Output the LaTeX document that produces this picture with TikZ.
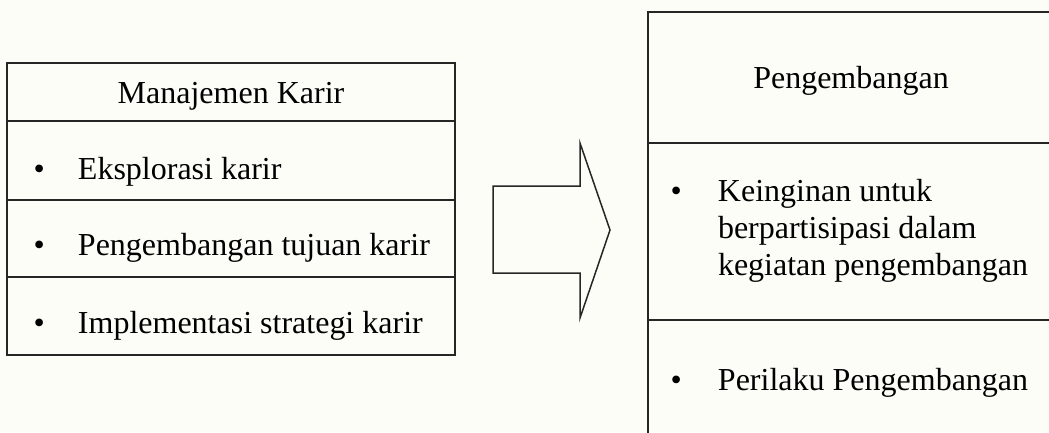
\documentclass[tikz,border=0pt]{standalone}
\usepackage{fontspec}
\setmainfont{Liberation Serif}
\usetikzlibrary{positioning}

\definecolor{paper}{RGB}{253,253,248}
\newcommand{\bul}[1]{\makebox[#1][l]{\textbullet}}
\newcommand{\itm}[3]{\makebox[#1][l]{\bul{#2}#3}}

\begin{document}
\begin{tikzpicture}[x=1pt,y=-1pt,
	box/.style={draw=black!85, line width=1.6pt, outer sep=0pt, inner ysep=0pt,
		font=\fontsize{32}{37}\selectfont},
	head/.style={box, text height=28pt, text depth=6pt},
	item/.style={box, text height=37pt, text depth=3pt},
	lbox/.style={minimum width=448pt},
	rbox/.style={minimum width=406pt}]
		\path[use as bounding box, fill=paper] (0,0) rectangle (1049,432);
		\clip (0,0) rectangle (1049,432);

		% kotak kiri
		\node[head,lbox,minimum height=58pt] (mk) at (231,92) {Manajemen Karir};
		\node[item,lbox,minimum height=79pt,text height=40pt,below=0pt of mk] (mk1) {\itm{395pt}{44.5pt}{Eksplorasi karir}};
		\node[item,lbox,minimum height=77pt,below=0pt of mk1] (mk2) {\itm{395pt}{44.5pt}{Pengembangan tujuan karir}};
		\node[item,lbox,minimum height=78pt,below=0pt of mk2] (mk3) {\itm{395pt}{44.5pt}{Implementasi strategi karir}};

		% panah
		\draw[line width=1.5pt, draw=black!85, line join=miter] (493,186) -- (580,186) -- (580,143)
			-- (610,230) -- (580,318) -- (580,273) -- (493,273) -- cycle;

		% kotak kanan
		\node[head,rbox,minimum height=131pt] (pg) at (851,77.5) {Pengembangan};
		\node[box,rbox,minimum height=177pt,below=0pt of pg] (pg1)
			{\begin{tabular}{@{}p{47.5pt}@{}p{313.5pt}@{}}
				\textbullet & Keinginan untuk\\
				& berpartisipasi dalam\\
				& kegiatan pengembangan
			\end{tabular}};
		\node[box,rbox,minimum height=126pt,text height=23pt,text depth=9pt,below=0pt of pg1] (pg2)
			{\itm{361pt}{47.5pt}{Perilaku Pengembangan}};

	\end{tikzpicture}
\end{document}
